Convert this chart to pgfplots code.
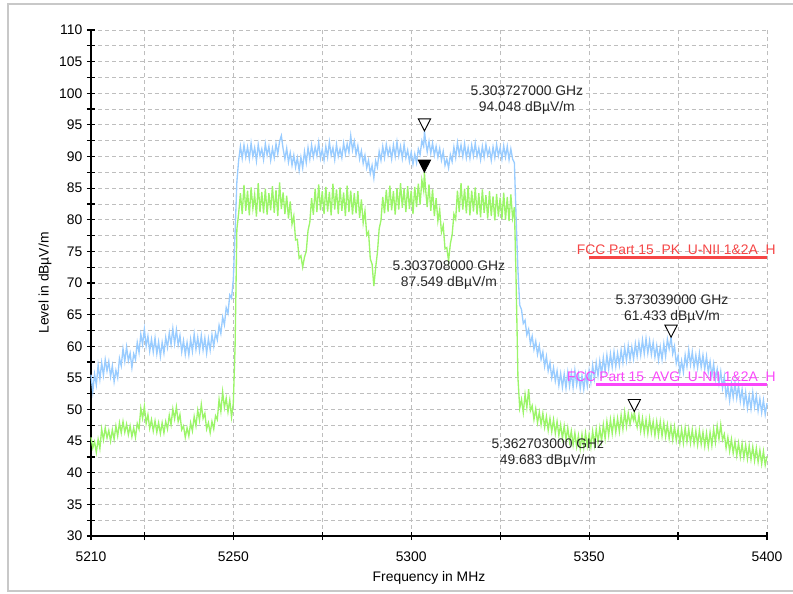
\documentclass[border=0pt]{standalone}
\usepackage{fontspec}
\setmainfont{Liberation Sans}
\usepackage{pgfplots}
\pgfplotsset{compat=1.18}

\definecolor{pktrace}{RGB}{153,204,255}
\definecolor{avtrace}{RGB}{155,245,105}
\definecolor{limred}{RGB}{245,70,70}
\definecolor{limmag}{RGB}{250,70,250}
\definecolor{gridgray}{RGB}{190,190,190}
\definecolor{framegray}{RGB}{200,200,200}

% downward triangle marker with its tip on the data point
\pgfdeclareplotmark{tridown}{%
  \pgfpathmoveto{\pgfpoint{0pt}{0pt}}%
  \pgfpathlineto{\pgfpoint{-4.6pt}{9pt}}%
  \pgfpathlineto{\pgfpoint{4.6pt}{9pt}}%
  \pgfpathclose
  \pgfusepathqfillstroke}

\newcommand{\chartfont}{\fontsize{10.4}{12}\selectfont}

\begin{document}
\begin{tikzpicture}
\path[use as bounding box] (-68.25pt,-42.75pt) rectangle (526.5pt,402pt);
\draw[framegray, line width=1.2pt] (-62.25pt,-41.25pt) rectangle (540pt,399pt);
\begin{axis}[
  at={(0,0)}, anchor=south west,
  scale only axis, width=507pt, height=379.5pt,
  xmin=5210, xmax=5400, ymin=30, ymax=110,
  axis x line*=bottom, axis y line*=left,
  axis line style={black, line width=1pt, -},
  xtick={5210,5250,5300,5350,5400},
  minor xtick={5225,5275,5325,5375},
  ytick={30,35,...,110},
  minor ytick={32.5,37.5,...,107.5},
  grid=both,
  major grid style={gridgray, dashed, dash pattern=on 3pt off 2.3pt, line width=0.6pt},
  minor grid style={gridgray, dashed, dash pattern=on 3pt off 2.3pt, line width=0.6pt},
  tick align=center,
  major tick length=6pt, minor tick length=6pt,
  tick style={black, line width=0.9pt},
  tick label style={font=\chartfont},
  /pgf/number format/assume math mode=true,
  /pgf/number format/1000 sep={},
  xticklabel style={yshift=-5pt},
  label style={font=\chartfont},
  xlabel={Frequency in MHz},
  ylabel={Level in dBµV/m},
  xlabel style={at={(axis description cs:0.5,0)}, anchor=center, yshift=-31.5pt},
  every axis y label/.append style={at={(-34.5pt,189.75pt)}, anchor=center},
  clip=false,
]

% peak detector trace
\addplot[pktrace, line width=1pt] coordinates {
(5210,55.5) (5210.5,52.8) (5211,55.6) (5211.5,53.9) (5212,57.0) (5212.5,54.8) (5213,57.4) (5213.5,55.4)
(5214,57.9) (5214.5,56.1) (5215,57.6) (5215.5,55.2) (5216,56.9) (5216.5,54.4) (5217,56.2) (5217.5,55.0)
(5218,58.1) (5218.5,56.9) (5219,59.6) (5219.5,57.6) (5220,59.9) (5220.5,57.7) (5221,58.9) (5221.5,56.6)
(5222,58.8) (5222.5,57.9) (5223,60.6) (5223.5,59.0) (5224,61.9) (5224.5,60.3) (5225,62.7) (5225.5,60.0)
(5226,61.6) (5226.5,59.2) (5227,61.1) (5227.5,59.1) (5228,61.3) (5228.5,58.8) (5229,60.7) (5229.5,58.4)
(5230,60.6) (5230.5,58.9) (5231,61.4) (5231.5,59.8) (5232,62.1) (5232.5,60.3) (5233,62.8) (5233.5,60.4)
(5234,62.6) (5234.5,60.2) (5235,61.7) (5235.5,59.1) (5236,60.9) (5236.5,58.7) (5237,60.6) (5237.5,58.6)
(5238,61.1) (5238.5,59.2) (5239,61.9) (5239.5,59.5) (5240,61.4) (5240.5,59.3) (5241,61.7) (5241.5,59.4)
(5242,61.3) (5242.5,58.9) (5243,61.2) (5243.5,59.4) (5244,61.8) (5244.5,60.0) (5245,62.1) (5245.5,61.0)
(5246,63.3) (5246.5,62.0) (5247,64.6) (5247.5,63.4) (5248,66.1) (5248.5,65.2) (5249,68.1) (5249.5,67.6)
(5250,70.5) (5250.5,78.0) (5251,86.0) (5251.5,89.4) (5252,91.6) (5252.5,89.7)
(5253,91.8) (5253.5,89.9) (5254,91.5) (5254.5,89.6) (5255,92.1) (5255.5,90.0) (5256,91.4) (5256.5,89.3)
(5257,91.9) (5257.5,90.1) (5258,91.2) (5258.5,89.5) (5259,92.0) (5259.5,90.2) (5260,91.6) (5260.5,89.4)
(5261,91.3) (5261.5,89.8) (5262,92.0) (5262.5,90.4) (5263,92.4) (5263.5,93.3) (5264,91.2) (5264.5,89.6)
(5265,91.3) (5265.5,89.1) (5266,90.6) (5266.5,88.6) (5267,90.2) (5267.5,88.3) (5268,89.8) (5268.5,87.8)
(5269,89.9) (5269.5,88.2) (5270,90.8) (5270.5,89.0) (5271,91.4) (5271.5,89.6) (5272,91.8) (5272.5,89.9)
(5273,91.5) (5273.5,90.1) (5274,92.2) (5274.5,89.7) (5275,91.1) (5275.5,89.4) (5276,91.6) (5276.5,89.9)
(5277,92.3) (5277.5,90.2) (5278,91.4) (5278.5,89.5) (5279,91.9) (5279.5,90.0) (5280,91.2) (5280.5,89.8)
(5281,92.1) (5281.5,90.4) (5282,92.0) (5282.5,90.6) (5283,93.3) (5283.5,91.0) (5284,92.4) (5284.5,90.3)
(5285,91.7) (5285.5,89.6) (5286,90.9) (5286.5,88.9) (5287,90.2) (5287.5,88.2) (5288,89.4) (5288.5,87.3)
(5289,88.6) (5289.5,86.6) (5290,89.3) (5290.5,88.3) (5291,90.8) (5291.5,89.4) (5292,91.6) (5292.5,89.8)
(5293,91.9) (5293.5,90.2) (5294,91.4) (5294.5,89.6) (5295,91.8) (5295.5,90.0) (5296,92.3) (5296.5,90.1)
(5297,91.6) (5297.5,89.7) (5298,91.9) (5298.5,89.8) (5299,91.0) (5299.5,89.2) (5300,90.7) (5300.5,88.8)
(5301,90.4) (5301.5,89.0) (5302,91.2) (5302.5,90.3) (5303,92.5) (5303.5,91.6) (5303.727,94.048) (5304,92.6)
(5304.5,90.7) (5305,92.4) (5305.5,90.5) (5306,92.1) (5306.5,90.2) (5307,91.6) (5307.5,89.9) (5308,91.3)
(5308.5,89.4) (5309,90.8) (5309.5,88.6) (5310,89.6) (5310.5,88.2) (5311,90.3) (5311.5,89.2) (5312,91.5)
(5312.5,89.8) (5313,92.2) (5313.5,90.3) (5314,91.8) (5314.5,90.0) (5315,92.0) (5315.5,89.8) (5316,91.4)
(5316.5,89.7) (5317,91.8) (5317.5,90.1) (5318,92.1) (5318.5,90.0) (5319,91.3) (5319.5,89.5) (5320,91.6)
(5320.5,89.9) (5321,91.9) (5321.5,90.2) (5322,91.2) (5322.5,89.4) (5323,91.5) (5323.5,89.8) (5324,91.9)
(5324.5,90.1) (5325,91.4) (5325.5,89.6) (5326,91.7) (5326.5,89.9) (5327,91.6) (5327.5,89.5) (5328,91.2)
(5328.5,89.6) (5329,89.0) (5329.5,80.0) (5330,72.0) (5330.5,66.5) (5331,65.8) (5331.5,63.6) (5332,64.1)
(5332.5,61.8) (5333,62.7) (5333.5,60.4) (5334,61.6) (5334.5,59.5) (5335,60.8) (5335.5,58.7) (5336,60.1)
(5336.5,57.9) (5337,59.1) (5337.5,56.8) (5338,58.4) (5338.5,56.1) (5339,57.4) (5339.5,55.0) (5340,56.6)
(5340.5,54.5) (5341,56.1) (5341.5,53.8) (5342,55.7) (5342.5,53.5) (5343,55.6) (5343.5,53.4) (5344,55.9)
(5344.5,53.7) (5345,55.8) (5345.5,53.5) (5346,56.2) (5346.5,53.9) (5347,55.6) (5347.5,53.3) (5348,55.4)
(5348.5,53.2) (5349,55.6) (5349.5,53.7) (5350,56.2) (5350.5,54.3) (5351,57.0) (5351.5,54.9) (5352,57.4)
(5352.5,55.3) (5353,57.7) (5353.5,55.6) (5354,58.2) (5354.5,56.0) (5355,58.6) (5355.5,56.4) (5356,58.8)
(5356.5,56.7) (5357,59.1) (5357.5,56.8) (5358,58.9) (5358.5,57.0) (5359,59.4) (5359.5,57.4) (5360,59.8)
(5360.5,57.7) (5361,60.1) (5361.5,57.9) (5362,59.9) (5362.5,58.0) (5363,60.4) (5363.5,58.4) (5364,60.6)
(5364.5,58.6) (5365,61.0) (5365.5,58.8) (5366,61.2) (5366.5,58.9) (5367,60.9) (5367.5,58.7) (5368,60.6)
(5368.5,58.3) (5369,60.1) (5369.5,57.8) (5370,59.9) (5370.5,57.9) (5371,60.4) (5371.5,58.4) (5372,61.1)
(5372.5,59.6) (5373.039,61.433) (5373.5,58.8) (5374,60.0) (5374.5,57.3) (5375,58.5) (5375.5,55.8) (5376,57.7)
(5376.5,55.9) (5377,58.6) (5377.5,56.8) (5378,59.4) (5378.5,57.1) (5379,59.1) (5379.5,56.7) (5380,58.6)
(5380.5,56.6) (5381,58.9) (5381.5,56.7) (5382,58.6) (5382.5,56.4) (5383,58.4) (5383.5,55.9) (5384,57.6)
(5384.5,55.3) (5385,57.2) (5385.5,54.8) (5386,56.4) (5386.5,54.1) (5387,56.0) (5387.5,53.4) (5388,55.2)
(5388.5,52.1) (5389,53.7) (5389.5,51.4) (5390,54.0) (5390.5,51.9) (5391,54.2) (5391.5,51.8) (5392,53.8)
(5392.5,51.3) (5393,53.2) (5393.5,50.7) (5394,52.7) (5394.5,50.2) (5395,52.2) (5395.5,50.1) (5396,52.7)
(5396.5,50.4) (5397,52.2) (5397.5,49.8) (5398,51.7) (5398.5,49.5) (5399,51.5) (5399.5,49.2) (5400,51.0)
};

% average detector trace
\addplot[avtrace, line width=1pt] coordinates {
(5210,45.6) (5210.5,43.9) (5211,44.9) (5211.5,43.2) (5212,45.3) (5212.5,43.8) (5213,46.9) (5213.5,45.2)
(5214,47.1) (5214.5,45.5) (5215,46.7) (5215.5,45.0) (5216,46.8) (5216.5,45.3) (5217,47.4) (5217.5,45.8)
(5218,47.9) (5218.5,46.3) (5219,48.1) (5219.5,46.4) (5220,47.7) (5220.5,46.0) (5221,47.4) (5221.5,45.7)
(5222,47.1) (5222.5,45.6) (5223,47.8) (5223.5,46.9) (5224,50.2) (5224.5,48.6) (5225,50.5) (5225.5,47.8)
(5226,49.2) (5226.5,47.0) (5227,48.4) (5227.5,46.6) (5228,48.2) (5228.5,46.4) (5229,47.9) (5229.5,46.2)
(5230,47.9) (5230.5,46.3) (5231,48.1) (5231.5,46.9) (5232,49.1) (5232.5,47.6) (5233,50.1) (5233.5,48.5)
(5234,50.4) (5234.5,48.1) (5235,49.2) (5235.5,46.8) (5236,47.4) (5236.5,45.6) (5237,47.1) (5237.5,45.8)
(5238,47.9) (5238.5,46.6) (5239,48.9) (5239.5,47.4) (5240,49.9) (5240.5,48.3) (5241,50.8) (5241.5,48.6)
(5242,49.4) (5242.5,46.9) (5243,47.9) (5243.5,46.3) (5244,48.1) (5244.5,46.9) (5245,49.0) (5245.5,48.4)
(5246,51.6) (5246.5,49.7) (5247,52.8) (5247.5,50.3) (5248,51.8) (5248.5,49.6) (5249,51.5) (5249.5,48.8)
(5250,51.0) (5250.5,60.0) (5251,78.5) (5251.5,81.0) (5252,84.2) (5252.5,80.9)
(5253,85.5) (5253.5,81.4) (5254,84.6) (5254.5,80.7) (5255,85.1) (5255.5,81.8) (5256,84.0) (5256.5,80.5)
(5257,85.8) (5257.5,81.2) (5258,84.4) (5258.5,81.0) (5259,84.9) (5259.5,80.8) (5260,84.2) (5260.5,81.5)
(5261,85.3) (5261.5,81.1) (5262,84.7) (5262.5,80.6) (5263,85.9) (5263.5,81.7) (5264,84.3) (5264.5,80.9)
(5265,83.8) (5265.5,80.2) (5266,82.9) (5266.5,79.3) (5267,80.6) (5267.5,76.8) (5268,76.9) (5268.5,73.9)
(5269,74.3) (5269.5,72.5) (5270,74.1) (5270.5,75.0) (5271,78.3) (5271.5,79.6) (5272,83.4) (5272.5,80.8)
(5273,84.9) (5273.5,81.2) (5274,85.6) (5274.5,81.5) (5275,84.5) (5275.5,80.9) (5276,85.2) (5276.5,81.3)
(5277,84.4) (5277.5,80.7) (5278,85.7) (5278.5,81.6) (5279,84.8) (5279.5,80.9) (5280,85.1) (5280.5,81.4)
(5281,84.3) (5281.5,80.6) (5282,85.4) (5282.5,81.2) (5283,84.6) (5283.5,80.8) (5284,84.2) (5284.5,81.0)
(5285,84.5) (5285.5,80.3) (5286,83.2) (5286.5,79.5) (5287,81.4) (5287.5,77.6) (5288,78.1) (5288.5,73.8)
(5289,73.0) (5289.5,69.5) (5290,72.4) (5290.5,74.8) (5291,78.6) (5291.5,79.9) (5292,83.6) (5292.5,81.0)
(5293,84.7) (5293.5,81.3) (5294,85.4) (5294.5,81.5) (5295,84.5) (5295.5,80.8) (5296,85.0) (5296.5,81.6)
(5297,85.8) (5297.5,81.9) (5298,84.9) (5298.5,81.2) (5299,85.3) (5299.5,81.7) (5300,84.6) (5300.5,80.9)
(5301,85.2) (5301.5,82.0) (5302,85.7) (5302.5,82.4) (5303,86.3) (5303.5,84.6) (5303.708,87.549) (5304,85.1)
(5304.5,82.0) (5305,85.6) (5305.5,81.4) (5306,84.8) (5306.5,80.6) (5307,83.4) (5307.5,79.8) (5308,81.6)
(5308.5,78.0) (5309,79.1) (5309.5,75.4) (5310,75.6) (5310.5,73.5) (5311,76.2) (5311.5,77.6) (5312,80.9)
(5312.5,80.1) (5313,84.6) (5313.5,81.2) (5314,85.8) (5314.5,81.6) (5315,84.9) (5315.5,81.0) (5316,85.4)
(5316.5,80.7) (5317,84.6) (5317.5,81.3) (5318,85.1) (5318.5,80.8) (5319,84.2) (5319.5,80.4) (5320,84.8)
(5320.5,81.1) (5321,83.9) (5321.5,80.2) (5322,84.5) (5322.5,80.6) (5323,83.7) (5323.5,79.9) (5324,84.1)
(5324.5,80.5) (5325,83.5) (5325.5,80.1) (5326,84.3) (5326.5,80.0) (5327,83.6) (5327.5,79.8) (5328,84.0)
(5328.5,80.3) (5329,82.0) (5329.5,70.0) (5330,55.0) (5330.5,50.2) (5331,51.6) (5331.5,49.5) (5332,52.4)
(5332.5,50.3) (5333,53.2) (5333.5,49.8) (5334,50.6) (5334.5,48.4) (5335,50.1) (5335.5,47.9) (5336,49.6)
(5336.5,47.6) (5337,49.4) (5337.5,47.2) (5338,48.9) (5338.5,46.7) (5339,48.6) (5339.5,46.5) (5340,48.4)
(5340.5,46.2) (5341,48.1) (5341.5,45.9) (5342,47.6) (5342.5,45.4) (5343,47.4) (5343.5,45.2) (5344,47.1)
(5344.5,44.9) (5345,46.6) (5345.5,44.4) (5346,46.3) (5346.5,44.1) (5347,45.9) (5347.5,43.8) (5348,46.1)
(5348.5,44.0) (5349,46.3) (5349.5,44.2) (5350,46.1) (5350.5,44.1) (5351,46.6) (5351.5,44.4) (5352,46.9)
(5352.5,44.8) (5353,47.1) (5353.5,45.0) (5354,47.6) (5354.5,45.4) (5355,48.1) (5355.5,45.9) (5356,48.4)
(5356.5,46.2) (5357,48.6) (5357.5,46.4) (5358,48.6) (5358.5,46.5) (5359,49.1) (5359.5,46.9) (5360,49.6)
(5360.5,47.3) (5361,49.4) (5361.5,47.6) (5362,49.2) (5362.5,48.3) (5362.703,49.683) (5363,48.5) (5363.5,47.2)
(5364,49.1) (5364.5,46.6) (5365,48.6) (5365.5,46.3) (5366,48.4) (5366.5,46.2) (5367,48.6) (5367.5,46.3)
(5368,48.1) (5368.5,45.9) (5369,48.1) (5369.5,45.9) (5370,48.1) (5370.5,45.8) (5371,47.9) (5371.5,45.7)
(5372,47.6) (5372.5,45.4) (5373,47.4) (5373.5,45.2) (5374,47.3) (5374.5,45.1) (5375,46.9) (5375.5,44.7)
(5376,46.9) (5376.5,44.7) (5377,47.1) (5377.5,44.9) (5378,46.9) (5378.5,44.7) (5379,46.8) (5379.5,44.6)
(5380,46.6) (5380.5,44.4) (5381,46.7) (5381.5,44.5) (5382,46.4) (5382.5,44.2) (5383,46.3) (5383.5,44.1)
(5384,46.4) (5384.5,44.3) (5385,46.9) (5385.5,44.8) (5386,47.4) (5386.5,45.3) (5387,47.6) (5387.5,45.2)
(5388,46.1) (5388.5,43.9) (5389,45.6) (5389.5,43.4) (5390,45.3) (5390.5,43.1) (5391,44.9) (5391.5,42.7)
(5392,44.7) (5392.5,42.5) (5393,44.6) (5393.5,42.4) (5394,44.4) (5394.5,42.2) (5395,44.3) (5395.5,42.1)
(5396,44.1) (5396.5,41.9) (5397,43.9) (5397.5,41.7) (5398,43.6) (5398.5,41.4) (5399,43.4) (5399.5,41.2)
(5400,42.6)
};

% limit lines
\addplot[limred, line width=2pt] coordinates {(5350,74) (5400,74)};
\addplot[limmag, line width=2pt] coordinates {(5352,54) (5400,54)};

% markers
\addplot[only marks, mark=tridown, mark options={draw=black, fill=white, line width=0.7pt}]
  coordinates {(5303.727,94.048) (5373.039,61.433) (5362.703,49.683)};
\addplot[only marks, mark=tridown, mark options={draw=black, fill=black, line width=0.7pt}]
  coordinates {(5303.708,87.549)};

% limit line captions
\node[text=limred, anchor=base east, inner sep=0pt, yshift=2.2pt, font=\chartfont]
  at (axis cs:5402.5,74) {FCC Part 15\ \ PK\ \ U-NII 1\&2A\ \ H};
\node[text=limmag, anchor=base east, inner sep=0pt, yshift=2.2pt, font=\chartfont]
  at (axis cs:5402.5,54) {FCC Part 15\ \ AVG\ \ U-NII 1\&2A\ \ H};

% marker readouts
\tikzset{readout/.style={align=center, inner sep=0pt, font=\fontsize{10.4}{12}\selectfont, text=black!85}}
\node[readout] at (axis cs:5332.5,98.93) {5.303727000 GHz\\94.048 dBµV/m};
\node[readout] at (axis cs:5310.6,71.27) {5.303708000 GHz\\87.549 dBµV/m};
\node[readout] at (axis cs:5373.3,65.89) {5.373039000 GHz\\61.433 dBµV/m};
\node[readout] at (axis cs:5338.4,43.12) {5.362703000 GHz\\49.683 dBµV/m};

\end{axis}
\end{tikzpicture}
\end{document}
